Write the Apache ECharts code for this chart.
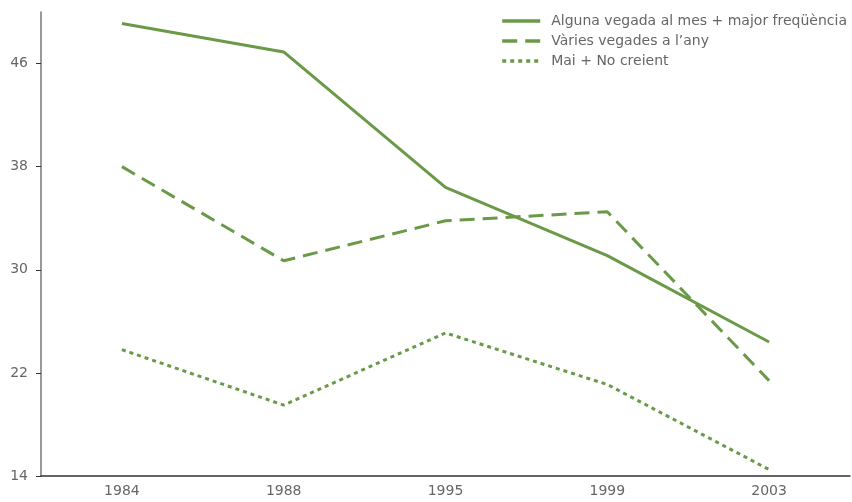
<!DOCTYPE html>
<html>
<head>
<meta charset="utf-8">
<script src="https://cdn.jsdelivr.net/npm/echarts@6/dist/echarts.min.js"></script>
<style>
  html, body { margin: 0; padding: 0; background: #fff; }
  #chart { width: 852px; height: 502px; }
</style>
</head>
<body>
<div id="chart"></div>
<script>
  var years = ['1984', '1988', '1995', '1999', '2003'];
  var monthly = [49.1, 46.9, 36.4, 31.1, 24.4];
  var yearly = [38.0, 30.7, 33.8, 34.5, 21.4];
  var never = [23.8, 19.5, 25.1, 21.1, 14.5];
  var names = ['Alguna vegada al mes + major freqüència', 'Vàries vegades a l\u2019any', 'Mai + No creient'];
  var dashes = ['solid', [15, 8], [4, 4]];

  var green = '#6a9a48';
  var chart = echarts.init(document.getElementById('chart'));

  function line(name, data, type) {
    return {
      name: name, type: 'line', data: data, symbol: 'none',
      lineStyle: { color: green, width: 3, type: type },
      itemStyle: { color: green }
    };
  }

  chart.setOption({
    animation: false,
    textStyle: { fontFamily: '"DejaVu Sans", sans-serif' },
    grid: { left: 41, right: 2, top: 12, bottom: 26 },
    legend: {
      orient: 'vertical', right: 0, top: 9, itemGap: 6,
      itemWidth: 38, itemHeight: 14,
      itemStyle: { opacity: 0 },
      textStyle: { color: '#666', fontSize: 14, padding: [0, 0, 0, 6] },
      data: names.map(function (n, i) {
        return { name: n, lineStyle: { type: dashes[i], width: 3.5 } };
      })
    },
    xAxis: {
      type: 'category', data: years, boundaryGap: true,
      axisLine: { lineStyle: { color: '#333', width: 1.5 } },
      axisTick: { alignWithLabel: false, length: 5, lineStyle: { color: '#333' } },
      axisLabel: { color: '#666', fontSize: 14, margin: 8 }
    },
    yAxis: {
      type: 'value', min: 14, max: 50, interval: 8,
      splitLine: { show: false },
      axisLine: { show: true, lineStyle: { color: '#777', width: 1.5 } },
      axisTick: { show: true, length: 5, lineStyle: { color: '#333' } },
      axisLabel: { color: '#666', fontSize: 14, margin: 13, showMaxLabel: false }
    },
    series: names.map(function (n, i) {
      return line(n, [monthly, yearly, never][i], dashes[i]);
    })
  });
</script>
</body>
</html>
